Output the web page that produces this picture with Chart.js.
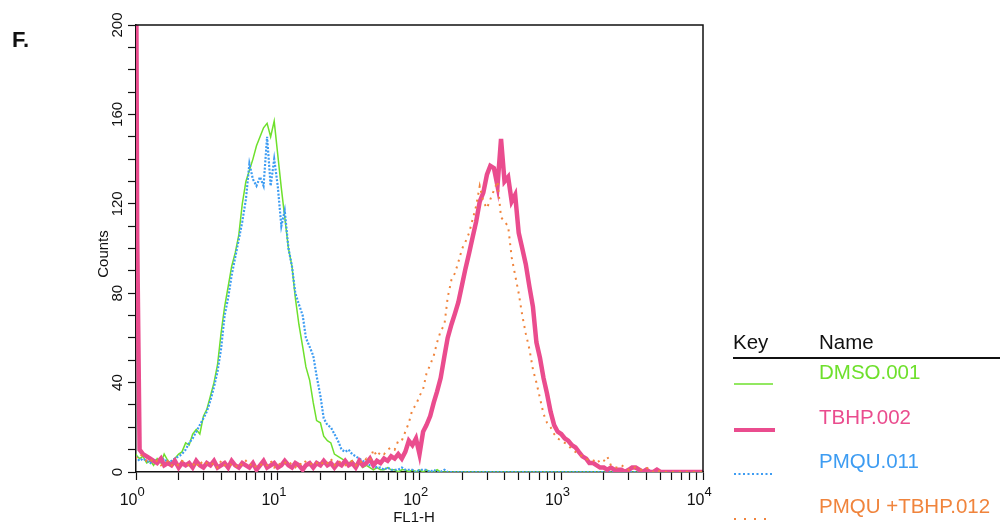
<!DOCTYPE html>
<html>
<head>
<meta charset="utf-8">
<script src="https://cdn.jsdelivr.net/npm/chart.js@4.4.0/dist/chart.umd.min.js"></script>
<style>
  html, body { margin: 0; padding: 0; background: #fff; }
  #flowChart { display: block; }
</style>
</head>
<body>
<canvas id="flowChart" width="1000" height="527"></canvas>
<script>
// FL1-H channel positions (40 per decade)
const fl1 = [
  1, 1.02,
  1.06, 1.12, 1.19, 1.26, 1.33, 1.41, 1.5, 1.58, 1.68, 1.78,
  1.88, 2, 2.11, 2.24, 2.37, 2.51, 2.66, 2.82, 2.99, 3.16,
  3.35, 3.55, 3.76, 3.98, 4.22, 4.47, 4.73, 5.01, 5.31, 5.62,
  5.96, 6.31, 6.68, 7.08, 7.5, 7.94, 8.41, 8.91, 9.44, 10,
  10.6, 11.2, 11.9, 12.6, 13.3, 14.1, 15, 15.8, 16.8, 17.8,
  18.8, 20, 21.1, 22.4, 23.7, 25.1, 26.6, 28.2, 29.9, 31.6,
  33.5, 35.5, 37.6, 39.8, 42.2, 44.7, 47.3, 50.1, 53.1, 56.2,
  59.6, 63.1, 66.8, 70.8, 75, 79.4, 84.1, 89.1, 94.4, 100,
  106, 112, 119, 126, 133, 141, 150, 158, 168, 178,
  188, 200, 211, 224, 237, 251, 266, 282, 299, 316,
  335, 355, 376, 398, 422, 447, 473, 501, 531, 562,
  596, 631, 668, 708, 750, 794, 841, 891, 944, 1000,
  1060, 1120, 1190, 1260, 1330, 1410, 1500, 1580, 1680, 1780,
  1880, 2000, 2110, 2240, 2370, 2510, 2660, 2820, 2990, 3160,
  3350, 3550, 3760, 3980, 4220, 4470, 4730, 5010, 5310, 5620,
  5960, 6310, 6680, 7080, 7500, 7940, 8410, 8910, 9440, 10000
];

// Counts per channel
const dmso = [
  8, 7,
  6, 7, 4, 5, 3, 6, 4, 8, 5, 4,
  6, 8, 9, 13, 12, 17, 19, 17, 25, 28,
  34, 40, 48, 62, 74, 83, 92, 98, 106, 120,
  130, 135, 140, 146, 150, 154, 156, 150, 157, 142,
  127, 114, 100, 92, 78, 66, 56, 47, 41, 31,
  23, 22, 16, 14, 13, 8, 7, 6, 5, 4,
  5, 3, 4, 2, 3, 2, 1, 2, 1, 1,
  2, 1, 1, 0, 1, 1, 0, 1, 0, 1,
  0, 1, 0, 0, 1, 0, 0, 0, 0, 0,
  0, 0, 0, 0, 0, 0, 0, 0, 0, 0,
  0, 0, 0, 0, 0, 0, 0, 0, 0, 0,
  0, 0, 0, 0, 0, 0, 0, 0, 0, 0,
  0, 0, 0, 0, 0, 0, 0, 0, 0, 0,
  0, 0, 0, 0, 0, 0, 0, 0, 0, 0,
  0, 0, 0, 0, 0, 0, 0, 0, 0, 0,
  0, 0, 0, 0, 0, 0, 0, 0, 0, 0
];

const tbhp = [
  250, 104,
  10, 8, 7, 6, 5, 4, 6, 3, 4, 3,
  5, 2, 4, 3, 4, 2, 5, 3, 2, 4,
  3, 5, 2, 3, 4, 2, 5, 3, 2, 4,
  3, 2, 4, 1, 3, 5, 2, 3, 4, 2,
  3, 5, 3, 2, 4, 3, 1, 3, 4, 2,
  4, 3, 5, 3, 4, 2, 4, 3, 5, 3,
  4, 2, 5, 3, 4, 6, 3, 5, 4, 6,
  5, 7, 6, 8, 6, 9, 14, 12, 15, 8,
  18, 21, 25, 31, 36, 42, 52, 60, 66, 71,
  76, 84, 91, 98, 105, 112, 121, 125, 133, 137,
  136, 128, 149, 130, 132, 121, 124, 107, 100, 93,
  83, 74, 58, 51, 42, 35, 27, 21, 18, 17,
  15, 14, 12, 11, 9, 7, 6, 4, 4, 3,
  2, 2, 1, 2, 1, 1, 1, 0, 1, 2,
  2, 1, 0, 1, 0, 0, 1, 0, 0, 0,
  0, 0, 0, 0, 0, 0, 0, 0, 0, 0
];

const pmqu = [
  7, 6,
  5, 6, 5, 4, 6, 4, 5, 6, 4, 5,
  6, 7, 8, 10, 13, 15, 18, 21, 24, 27,
  32, 38, 45, 55, 70, 78, 88, 96, 104, 112,
  122, 138, 131, 128, 132, 128, 150, 128, 140, 128,
  110, 117, 100, 92, 80, 75, 70, 60, 56, 52,
  43, 34, 24, 21, 20, 17, 14, 10, 9, 10,
  8, 7, 6, 5, 4, 3, 3, 2, 2, 1,
  2, 1, 1, 1, 2, 1, 1, 1, 0, 1,
  1, 1, 0, 1, 0, 0, 1, 0, 0, 0,
  0, 0, 0, 0, 0, 0, 0, 0, 0, 0,
  0, 0, 0, 0, 0, 0, 0, 0, 0, 0,
  0, 0, 0, 0, 0, 0, 0, 0, 0, 0,
  0, 0, 0, 0, 0, 0, 0, 0, 0, 0,
  0, 0, 0, 0, 0, 0, 0, 0, 0, 0,
  0, 0, 0, 0, 0, 0, 0, 0, 0, 0,
  0, 0, 0, 0, 0, 0, 0, 0, 0, 0
];

const pmquTbhp = [
  6, 7,
  8, 7, 5, 6, 4, 5, 3, 4, 5, 3,
  4, 3, 5, 4, 3, 4, 2, 5, 3, 4,
  3, 4, 2, 5, 3, 4, 3, 2, 4, 3,
  5, 3, 4, 2, 3, 4, 3, 5, 2, 4,
  3, 4, 5, 3, 2, 4, 3, 5, 4, 3,
  4, 5, 3, 4, 6, 3, 5, 4, 3, 4,
  5, 3, 5, 4, 6, 5, 10, 7, 9, 8,
  10, 11, 10, 14, 14, 18, 22, 28, 30, 34,
  37, 44, 48, 52, 58, 63, 66, 78, 86, 89,
  94, 100, 103, 107, 113, 119, 128, 121, 118, 122,
  126, 130, 114, 112, 110, 96, 88, 80, 70, 62,
  55, 46, 40, 33, 26, 22, 20, 17, 15, 14,
  13, 12, 10, 9, 8, 7, 6, 5, 5, 6,
  4, 5, 7, 3, 2, 2, 3, 2, 1, 2,
  2, 1, 1, 2, 1, 0, 1, 0, 0, 0,
  0, 0, 0, 0, 0, 0, 0, 0, 0, 0
];

const seriesNames = ['DMSO.001', 'TBHP.002', 'PMQU.011', 'PMQU +TBHP.012'];
const seriesColors = ['#6ee02c', '#ea4c8e', '#3d9cf2', '#f0843c'];

// axis ticks
const xTicks = [1, 2, 3, 4, 5, 6, 7, 8, 9, 10, 20, 30, 40, 50, 60, 70, 80, 90,
  100, 200, 300, 400, 500, 600, 700, 800, 900, 1000, 2000, 3000, 4000, 5000,
  6000, 7000, 8000, 9000, 10000];
const decadeValues = [1, 10, 100, 1000, 10000];
const decadeExponents = ['0', '1', '2', '3', '4'];
const yLabelled = [0, 40, 80, 120, 160, 200];

const FONT = '"Liberation Sans Narrow", "Liberation Sans", Arial, sans-serif';
const INK = '#111';

function toPoints(counts) {
  return fl1.map((x, i) => ({ x: x, y: counts[i] }));
}

const lineStyles = [
  { width: 1.5, dash: [], order: 3 },
  { width: 4.5, dash: [], order: 1 },
  { width: 2.2, dash: [2, 1.6], order: 2 },
  { width: 2, dash: [2, 5], order: 0 }
];
const seriesData = [dmso, tbhp, pmqu, pmquTbhp];

const datasets = seriesData.map((counts, i) => ({
  label: seriesNames[i],
  data: toPoints(counts),
  borderColor: seriesColors[i],
  backgroundColor: seriesColors[i],
  borderWidth: lineStyles[i].width,
  borderDash: lineStyles[i].dash,
  order: lineStyles[i].order,
  pointRadius: 0,
  tension: 0,
  fill: false
}));

// frame, decade labels, titles and the Key/Name legend
const decorPlugin = {
  id: 'decor',
  afterDraw(chart) {
    const ctx = chart.ctx;
    const a = chart.chartArea;
    const xs = chart.scales.x;
    ctx.save();

    ctx.strokeStyle = INK;
    ctx.lineWidth = 1.5;
    ctx.beginPath();
    ctx.moveTo(a.left, a.top);
    ctx.lineTo(a.right, a.top);
    ctx.lineTo(a.right, a.bottom);
    ctx.stroke();

    ctx.fillStyle = INK;
    ctx.textBaseline = 'alphabetic';
    decadeValues.forEach((v, i) => {
      const px = xs.getPixelForValue(v);
      ctx.font = '16px ' + FONT;
      ctx.textAlign = 'right';
      ctx.fillText('10', px + 1.5, 505);
      ctx.font = '13px ' + FONT;
      ctx.textAlign = 'left';
      ctx.fillText(decadeExponents[i], px + 1.5, 496);
    });

    // axis titles
    ctx.font = '15px ' + FONT;
    ctx.textAlign = 'center';
    ctx.fillText('FL1-H', 414, 522);
    ctx.save();
    ctx.translate(108, 254);
    ctx.rotate(-Math.PI / 2);
    ctx.fillText('Counts', 0, 0);
    ctx.restore();

    // panel letter
    ctx.font = 'bold 22px "Liberation Sans", Arial, sans-serif';
    ctx.textAlign = 'left';
    ctx.fillText('F.', 12, 47);

    // legend
    ctx.font = '20.5px "Liberation Sans", Arial, sans-serif';
    ctx.fillText('Key', 733, 349);
    ctx.fillText('Name', 819, 349);
    ctx.lineWidth = 2;
    ctx.beginPath();
    ctx.moveTo(733, 358);
    ctx.lineTo(1000, 358);
    ctx.stroke();

    const textY = [379, 424, 468, 513];
    const sampleY = [384, 430, 474, 519];
    chart.data.datasets.forEach((ds, i) => {
      ctx.fillStyle = ds.borderColor;
      ctx.fillText(ds.label, 819, textY[i]);
      ctx.strokeStyle = ds.borderColor;
      ctx.lineWidth = i === 1 ? 4 : ds.borderWidth;
      ctx.setLineDash(i === 3 ? [2, 8] : (i === 2 ? [2, 2.5] : ds.borderDash));
      ctx.beginPath();
      ctx.moveTo(734, sampleY[i]);
      ctx.lineTo(i === 1 ? 775 : 773, sampleY[i]);
      ctx.stroke();
      ctx.setLineDash([]);
    });
    ctx.restore();
  }
};

const config = {
  type: 'line',
  data: { datasets: datasets },
  options: {
    responsive: false,
    animation: false,
    devicePixelRatio: 1,
    layout: { padding: { left: 0, right: 297, top: 25, bottom: 0 } },
    plugins: {
      legend: { display: false },
      tooltip: { enabled: false }
    },
    scales: {
      x: {
        type: 'logarithmic',
        min: 1,
        max: 10000,
        afterBuildTicks: (scale) => {
          scale.ticks = xTicks.map(v => ({ value: v }));
        },
        afterFit: (scale) => { scale.height = 55; },
        ticks: { display: false },
        grid: {
          drawOnChartArea: false,
          drawTicks: true,
          tickLength: 8,
          tickColor: INK,
          tickWidth: 1.2
        },
        border: { color: INK, width: 1.5 }
      },
      y: {
        min: 0,
        max: 200,
        afterFit: (scale) => { scale.width = 136; },
        ticks: {
          stepSize: 10,
          autoSkip: false,
          minRotation: 90,
          maxRotation: 90,
          crossAlign: 'center',
          padding: -2,
          color: INK,
          font: { family: FONT, size: 15 },
          callback: (v) => (yLabelled.includes(v) ? String(v) : '')
        },
        grid: {
          drawOnChartArea: false,
          drawTicks: true,
          tickLength: 8,
          tickColor: INK,
          tickWidth: 1.2
        },
        border: { color: INK, width: 1.5 }
      }
    }
  },
  plugins: [decorPlugin]
};

const chartCanvas = document.getElementById('flowChart');
new Chart(chartCanvas.getContext('2d'), config);
</script>
</body>
</html>
